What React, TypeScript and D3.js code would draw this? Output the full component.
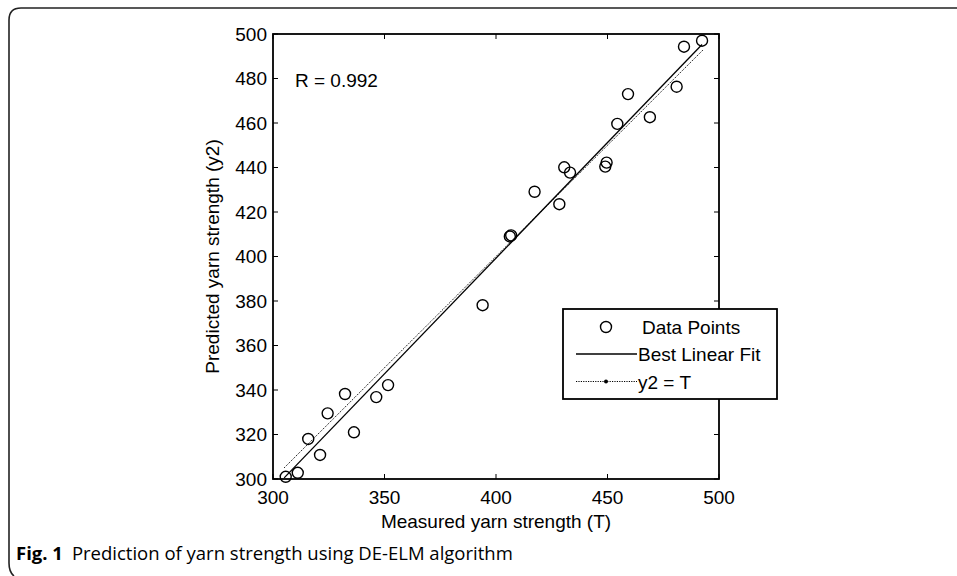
import React from "react";
import * as d3 from "d3";

const measured = [305.7, 311.1, 315.8, 321.1, 324.5, 332.3, 336.3, 346.3, 351.6, 394, 406.2, 406.8, 417.3, 428.4, 430.6, 433.2, 449, 449.6, 454.4, 459.2, 469, 481, 484.3, 492.4];
const predicted = [301, 302.8, 318, 310.8, 329.5, 338.2, 321, 336.8, 342.2, 378.1, 409, 409.5, 429.1, 423.5, 440.1, 437.7, 440.4, 442.2, 459.6, 473, 462.6, 476.3, 494.3, 497];
const fitEnds = [{ t: 305, y: 300.5 }, { t: 492.4, y: 495.3 }];
const identityEnds = [305, 493];
const xTicks = [300, 350, 400, 450, 500];
const yTicks = [300, 320, 340, 360, 380, 400, 420, 440, 460, 480, 500];
const legendLabels = ["Data Points", "Best Linear Fit", "y2 = T"];

const W = 957, H = 576;
const L = 273, R = 719, T = 34, B = 479;
const FONT = "'Liberation Sans', Arial, sans-serif";
const FS = 19;

export default function App() {
  const x = d3.scaleLinear().domain([300, 500]).range([L, R]);
  const y = d3.scaleLinear().domain([300, 500]).range([B, T]);
  const line = d3.line<[number, number]>().x(d => x(d[0])).y(d => y(d[1]));
  const fitPath = line(fitEnds.map(d => [d.t, d.y] as [number, number])) || "";
  const idPath = line(identityEnds.map(v => [v, v] as [number, number])) || "";
  const tk = 5;
  const lgX = 563, lgY = 309, lgW = 214, lgH = 90;
  const rows = [327, 354, 381.5];
  return (
    <svg width={W} height={H} style={{ position: "absolute", left: 0, top: 0, background: "#fff" }}>
      <rect x={0} y={0} width={W} height={H} fill="#fff" />
      <path d={`M14,576 Q9,572 9,563 L9,20 Q9,8 21,8 L957,8`} fill="none" stroke="#222" strokeWidth={1.6} />
      <path d={idPath} fill="none" stroke="#000" strokeWidth={1} strokeDasharray="1.2,1.2" />
      <path d={fitPath} fill="none" stroke="#000" strokeWidth={1.3} />
      {measured.map((m, i) => (
        <circle key={i} cx={x(m)} cy={y(predicted[i])} r={5.5} fill="none" stroke="#000" strokeWidth={1.4} />
      ))}
      <rect x={L} y={T} width={R - L} height={B - T} fill="none" stroke="#000" strokeWidth={1.8} />
      {xTicks.map(v => (
        <g key={"x" + v}>
          <line x1={x(v)} x2={x(v)} y1={B} y2={B - tk} stroke="#000" strokeWidth={1} />
          <line x1={x(v)} x2={x(v)} y1={T} y2={T + tk} stroke="#000" strokeWidth={1} />
          <text x={x(v)} y={504} textAnchor="middle" fontFamily={FONT} fontSize={FS}>{v}</text>
        </g>
      ))}
      {yTicks.map(v => (
        <g key={"y" + v}>
          <line x1={L} x2={L + tk} y1={y(v)} y2={y(v)} stroke="#000" strokeWidth={1} />
          <line x1={R} x2={R - tk} y1={y(v)} y2={y(v)} stroke="#000" strokeWidth={1} />
          <text x={L - 6} y={y(v) + 6.5} textAnchor="end" fontFamily={FONT} fontSize={FS}>{v}</text>
        </g>
      ))}
      <text x={295} y={87} fontFamily={FONT} fontSize={FS}>R = 0.992</text>
      <text x={(L + R) / 2} y={528} textAnchor="middle" fontFamily={FONT} fontSize={FS}>Measured yarn strength (T)</text>
      <text transform={`translate(219,${(T + B) / 2}) rotate(-90)`} textAnchor="middle" fontFamily={FONT} fontSize={FS}>Predicted yarn strength (y2)</text>
      <rect x={lgX} y={lgY} width={lgW} height={lgH} fill="#fff" stroke="#000" strokeWidth={1.8} />
      <circle cx={606} cy={rows[0]} r={5.5} fill="none" stroke="#000" strokeWidth={1.4} />
      <line x1={576} x2={637} y1={rows[1]} y2={rows[1]} stroke="#000" strokeWidth={1.3} />
      <line x1={576} x2={637} y1={rows[2]} y2={rows[2]} stroke="#000" strokeWidth={1} strokeDasharray="1.2,1.2" />
      <circle cx={606} cy={rows[2]} r={2} fill="#000" />
      {legendLabels.map((t, i) => (
        <text key={t} x={i === 0 ? 642 : 638} y={rows[i] + 7} fontFamily={FONT} fontSize={FS}>{t}</text>
      ))}
      <text x={16} y={560} fontFamily="'Open Sans', 'Noto Sans', sans-serif" fontSize={18.5}>
        <tspan fontWeight="bold">Fig. 1</tspan>
        <tspan dx={9}>Prediction of yarn strength using DE-ELM algorithm</tspan>
      </text>
    </svg>
  );
}
